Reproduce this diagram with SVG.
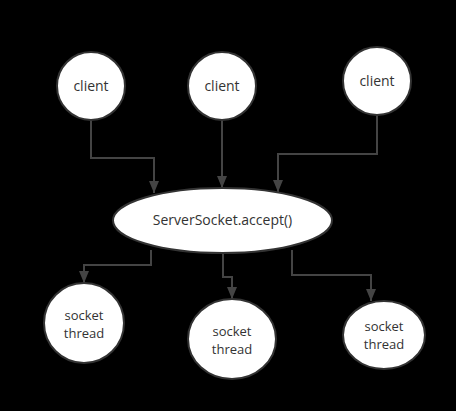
<svg xmlns="http://www.w3.org/2000/svg" width="456" height="411" viewBox="0 0 456 411">
<defs>
<style>
.node{fill:#ffffff;stroke:#333333;stroke-width:2}
.lbl{font-family:"Open Sans","Noto Sans",sans-serif;font-size:14px;fill:#333333;text-anchor:middle}
.sm{font-size:13px}
.conn{fill:none;stroke:#444444;stroke-width:2}
</style>
<marker id="arr" viewBox="0 0 12 10" refX="12" refY="5" markerWidth="7" markerHeight="5" markerUnits="strokeWidth" orient="auto">
<path d="M0,0 L12,5 L0,10 z" fill="#444444"/>
</marker>
</defs>
<rect x="0" y="0" width="456" height="411" fill="#000000"/>
<g id="connectors">
<path class="conn" d="M91,120 V158 H154 V193" marker-end="url(#arr)"/>
<path class="conn" d="M222,120 V188" marker-end="url(#arr)"/>
<path class="conn" d="M377,115 V154 H278 V192" marker-end="url(#arr)"/>
<path class="conn" d="M151,250 V265 H84 V283" marker-end="url(#arr)"/>
<path class="conn" d="M223,253 V277 H232 V299" marker-end="url(#arr)"/>
<path class="conn" d="M292,250 V275 H371 V301" marker-end="url(#arr)"/>
</g>
<g id="client1"><circle class="node" cx="91" cy="86" r="34"/><text class="lbl" x="91" y="91">client</text></g>
<g id="client2"><circle class="node" cx="222" cy="86" r="34"/><text class="lbl" x="222" y="91">client</text></g>
<g id="client3"><circle class="node" cx="377" cy="81" r="34"/><text class="lbl" x="377" y="86">client</text></g>
<g id="server"><ellipse class="node" cx="222.5" cy="220.5" rx="109.5" ry="32.5"/><text class="lbl" x="222.5" y="225">ServerSocket.accept()</text></g>
<g id="thread1"><ellipse class="node" cx="84" cy="323" rx="40" ry="40"/><text class="lbl sm" x="84" y="320">socket</text><text class="lbl sm" x="84" y="338">thread</text></g>
<g id="thread2"><ellipse class="node" cx="232" cy="339" rx="44" ry="40"/><text class="lbl sm" x="232" y="336">socket</text><text class="lbl sm" x="232" y="354">thread</text></g>
<g id="thread3"><ellipse class="node" cx="384" cy="335" rx="41" ry="34"/><text class="lbl sm" x="384" y="331">socket</text><text class="lbl sm" x="384" y="349">thread</text></g>
</svg>
